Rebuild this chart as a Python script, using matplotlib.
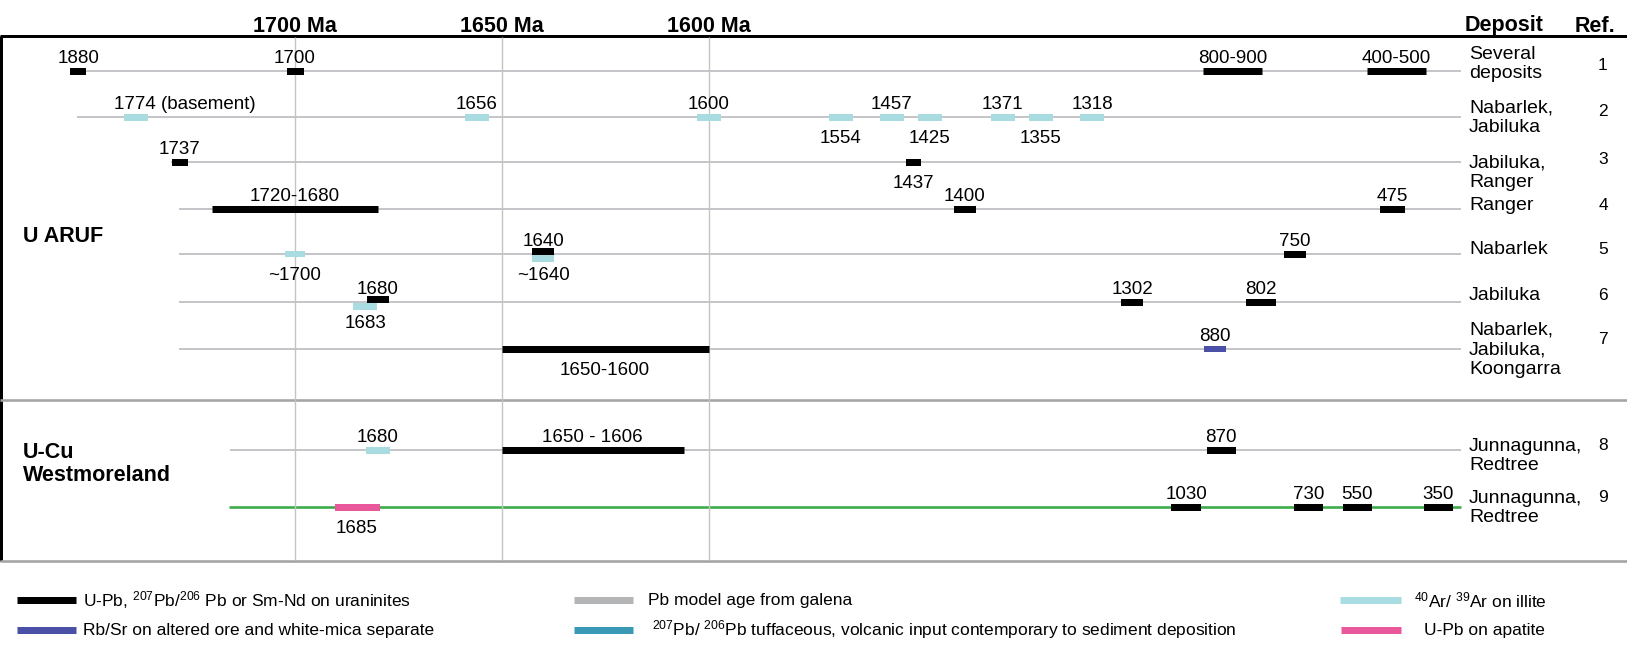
import numpy as np
import matplotlib.pyplot as plt

plt.rcParams['font.family'] = ['Liberation Sans', 'DejaVu Sans']
plt.rcParams['mathtext.fontset'] = 'custom'
plt.rcParams['mathtext.rm'] = 'Liberation Sans'
plt.rcParams['mathtext.it'] = 'Liberation Sans:italic'
plt.rcParams['mathtext.bf'] = 'Liberation Sans:bold'

W, H = 1627, 652

# ---- data -------------------------------------------------------------
deposits = ["Several\ndeposits", "Nabarlek,\nJabiluka", "Jabiluka,\nRanger", "Ranger",
            "Nabarlek", "Jabiluka", "Nabarlek,\nJabiluka,\nKoongarra",
            "Junnagunna,\nRedtree", "Junnagunna,\nRedtree"]
refs = ["1", "2", "3", "4", "5", "6", "7", "8", "9"]
groups = ["U ARUF", "U-Cu\nWestmoreland"]
header_ages = [1700, 1650, 1600]

nan = np.nan
# one entry per dated mark, ages in Ma; mark_end is set for age ranges
mark_row = [0, 0, 0, 0,
            1, 1, 1, 1, 1, 1, 1, 1, 1,
            2, 2,
            3, 3, 3,
            4, 4, 4, 4,
            5, 5, 5, 5,
            6, 6,
            7, 7, 7,
            8, 8, 8, 8, 8]
mark_age = [1880, 1700, 900, 500,
            1774, 1656, 1600, 1554, 1457, 1425, 1371, 1355, 1318,
            1737, 1437,
            1720, 1400, 475,
            1700, 1640, 1640, 750,
            1680, 1683, 1302, 802,
            1650, 880,
            1680, 1650, 870,
            1685, 1030, 730, 550, 350]
mark_end = [nan, nan, 800, 400,
            nan, nan, nan, nan, nan, nan, nan, nan, nan,
            nan, nan,
            1680, nan, nan,
            nan, nan, nan, nan,
            nan, nan, nan, nan,
            1600, nan,
            nan, 1606, nan,
            nan, nan, nan, nan, nan]
mark_method = ["U", "U", "U", "U",
               "Ar", "Ar", "Ar", "Ar", "Ar", "Ar", "Ar", "Ar", "Ar",
               "U", "U",
               "U", "U", "U",
               "Ar", "U", "Ar", "U",
               "U", "Ar", "U", "U",
               "U", "Rb",
               "Ar", "U", "U",
               "ap", "U", "U", "U", "U"]
mark_label = ["1880", "1700", "800-900", "400-500",
              "1774 (basement)", "1656", "1600", "1554", "1457", "1425", "1371", "1355", "1318",
              "1737", "1437",
              "1720-1680", "1400", "475",
              "~1700", "1640", "~1640", "750",
              "1680", "1683", "1302", "802",
              "1650-1600", "880",
              "1680", "1650 - 1606", "870",
              "1685", "1030", "730", "550", "350"]

methods = ["U", "Rb", "Pb", "tuff", "Ar", "ap"]
method_names = {
    "U": r"U-Pb, $^{207}$Pb/$^{206}$ Pb or Sm-Nd on uraninites",
    "Rb": "Rb/Sr on altered ore and white-mica separate",
    "Pb": "Pb model age from galena",
    "tuff": r"$^{207}$Pb/ $^{206}$Pb tuffaceous, volcanic input contemporary to sediment deposition",
    "Ar": r"$^{40}$Ar/ $^{39}$Ar on illite",
    "ap": "U-Pb on apatite",
}

# ---- styling / layout -------------------------------------------------
colors = {"U": "#000000", "Rb": "#4a50a5", "Pb": "#b3b5b7", "tuff": "#3a9ab6",
          "Ar": "#a9dce0", "ap": "#ea589c"}

# schematic time axis: age (Ma) -> horizontal pixel, linear between knots
knot_age = [2000, 1900, 1800, 1750, 1720, 1600, 1550, 1450, 1400, 1375, 1350, 1325,
            1300, 1000, 900, 800, 700, 500, 450, 400, 300, 0]
knot_px = [0, 69, 115, 155, 212, 708.6, 852, 895, 965, 993, 1053, 1075,
           1137, 1192, 1203, 1262, 1328, 1367, 1418, 1426, 1450, W]


def fwd(a):
    return np.interp(a, knot_age[::-1], knot_px[::-1])


def inv(p):
    return np.interp(p, knot_px, knot_age)


row_y = [71, 117, 162, 209, 254, 302, 349, 450, 507]
row_x0 = [71, 77.5, 171, 178.6, 178.6, 178.6, 178.6, 230, 229]
row_x1 = 1461
dep_y = [64, 118, 173, 205, 249, 296, 350, 456, 508]
ref_y = [65, 111, 159, 205, 249, 295, 340, 445, 497]

mark_w = [16, 17, 0, 0,
          24, 24, 24, 24, 24, 24, 24, 24, 24,
          16, 15,
          0, 22, 25,
          20, 22, 22, 22,
          22, 24, 22, 30,
          0, 23,
          24, 0, 29,
          45, 30, 29, 29, 29]
mark_side = ["a", "a", "a", "a",
             "a", "a", "a", "b", "a", "b", "a", "b", "a",
             "a", "b",
             "a", "a", "a",
             "b", "a", "b", "a",
             "a", "b", "a", "a",
             "b", "a",
             "a", "a", "a",
             "b", "a", "a", "a", "a"]
mark_dy = {19: -3, 20: 4, 22: -3, 23: 3.5}
label_shift = {4: -22}
BAR_H = 7          # bar thickness, px
PX = 0.72          # points per pixel at dpi 100


def bar_marker(w, h=BAR_H):
    return [(-w / 2, -h / 2), (w / 2, -h / 2), (w / 2, h / 2), (-w / 2, h / 2), (-w / 2, -h / 2)]


fig = plt.figure(figsize=(W / 100, H / 100), dpi=100)

# pixel-space layer for frame, rows, text columns and key
lay = fig.add_axes([0, 0, 1, 1])
lay.set_xlim(0, W)
lay.set_ylim(H, 0)
lay.axis('off')

# time layer (the scale runs from old ages on the left to young on the right)
ax = fig.add_axes([0, 0, 1, 1])
ax.set_xscale('function', functions=(fwd, inv))
ax.set_xlim(inv(W), inv(0))
ax.set_ylim(H, 0)
ax.axis('off')
ax.patch.set_visible(False)

# frame
lay.plot([0, W], [36, 36], color='black', lw=3 * PX, solid_capstyle='butt')
lay.plot([1.5, 1.5], [36, 561], color='black', lw=3 * PX, solid_capstyle='butt')
for yy in (400, 561):
    lay.plot([0, W], [yy, yy], color='#a4a4a4', lw=2.6 * PX, solid_capstyle='butt')

# age gridlines and headers
ax.vlines(header_ages, 37, 560, color='#c4c4c4', lw=1.4 * PX, zorder=1)
for a in header_ages:
    ax.text(a, 31.5, f"{a} Ma", ha='center', va='baseline', fontsize=15.5, fontweight='bold')
lay.text(1465, 31.5, "Deposit", ha='left', va='baseline', fontsize=15.5, fontweight='bold')
lay.text(1595, 31.5, "Ref.", ha='center', va='baseline', fontsize=15.5, fontweight='bold')

# row baselines
for i, y in enumerate(row_y):
    c = '#3cab4a' if i == len(row_y) - 1 else '#c5c6ca'
    lw = 2.6 if i == len(row_y) - 1 else 2.0
    lay.plot([row_x0[i], row_x1], [y, y], color=c, lw=lw * PX, solid_capstyle='butt', zorder=1)

# deposit names and references
for i, y in enumerate(row_y):
    lay.text(1469, dep_y[i], deposits[i], ha='left', va='center', fontsize=14, linespacing=1.2)
    lay.text(1603, ref_y[i], refs[i], ha='center', va='center', fontsize=12.5)

lay.text(23, 237, groups[0], ha='left', va='center', fontsize=15.5, fontweight='bold')
lay.text(23, 464, groups[1], ha='left', va='center', fontsize=15.5, fontweight='bold',
         linespacing=1.1)

# dated marks
for i, a in enumerate(mark_age):
    r = mark_row[i]
    y = row_y[r] + mark_dy.get(i, 0)
    c = colors[mark_method[i]]
    if np.isnan(mark_end[i]):
        w = mark_w[i]
        ax.plot([a], [y], ls='none', marker=bar_marker(w), ms=w * PX, mew=0, color=c, zorder=3)
        xc = a
    else:
        b = mark_end[i]
        ax.plot([a, b], [y, y], color=c, lw=BAR_H * PX, solid_capstyle='butt', zorder=3)
        xc = inv((fwd(a) + fwd(b)) / 2)
    ty = row_y[r] - 8 if mark_side[i] == "a" else row_y[r] + 26
    dx = label_shift.get(i, 0)
    ax.annotate(mark_label[i], (xc, ty), xytext=(dx, 0), textcoords='offset pixels',
                ha='left' if dx else 'center', va='baseline', fontsize=13.5)

# key
key_pos = {"U": (17, 76, 83, 600), "Rb": (17, 76, 83, 630),
           "Pb": (574, 633, 648, 600), "tuff": (574, 633, 652, 630),
           "Ar": (1340, 1401, 1414, 600), "ap": (1341, 1401, 1424, 630)}
for m in methods:
    x0, x1, xt, y = key_pos[m]
    lay.plot([x0, x1], [y, y], color=colors[m], lw=BAR_H * PX, solid_capstyle='butt')
    lay.text(xt, y, method_names[m], ha='left', va='center', fontsize=12.5)

fig.savefig("out.png", dpi=100)
